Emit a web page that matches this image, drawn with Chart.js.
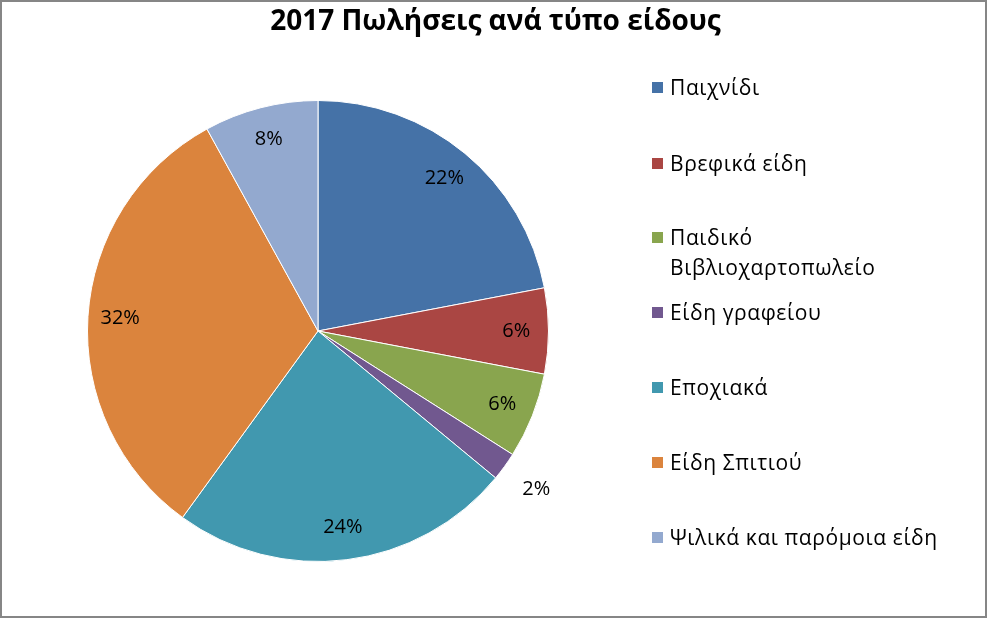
<!DOCTYPE html>
<html><head><meta charset="utf-8">
<script src="https://cdn.jsdelivr.net/npm/chart.js@4"></script>
<style>
body{margin:0;background:#fff;font-family:"Open Sans",sans-serif}
#wrap{position:relative;width:983px;height:614px;border:2px solid #868686;}
#title{position:absolute;top:-2px;left:0;width:987px;text-align:center;font:bold 28px "Open Sans",sans-serif;color:#000}
#legend{position:absolute;left:650px;top:0;font:21px "Open Sans",sans-serif;color:#000;letter-spacing:0.6px}
.item{position:absolute;left:0;white-space:nowrap;line-height:30px}
.sw{position:absolute;left:0;top:10px;width:11px;height:11px}
.tx{position:absolute;left:18px}
canvas{position:absolute;left:-2px;top:-2px}
</style></head>
<body><div id="wrap">
<canvas id="c" width="987" height="618"></canvas>
<div id="title">2017 Πωλήσεις ανά τύπο είδους</div>
<div id="legend"></div>
</div>
<script>
const categories = ['Παιχνίδι','Βρεφικά είδη','Παιδικό Βιβλιοχαρτοπωλείο','Είδη γραφείου','Εποχιακά','Είδη Σπιτιού','Ψιλικά και παρόμοια είδη'];
const values = [22, 6, 6, 2, 24, 32, 8];
const colors = ['#4572A7','#AA4643','#89A54E','#71588F','#4198AF','#DB843D','#93A9CF'];

// HTML legend
const legendTops = [70, 146, 220, 295, 370, 445, 520];
const legend = document.getElementById('legend');
categories.forEach((c, i) => {
    const label = i === 2 ? 'Παιδικό<br>Βιβλιοχαρτοπωλείο' : c;
    legend.innerHTML += `<div class="item" style="top:${legendTops[i]}px"><div class="sw" style="background:${colors[i]}"></div><div class="tx">${label}</div></div>`;
});

const pctLabels = {
    id: 'pctLabels',
    afterDatasetsDraw(chart) {
        const ctx = chart.ctx;
        const total = values.reduce((a, b) => a + b, 0);
        ctx.save();
        ctx.font = '20px "Open Sans", sans-serif';
        ctx.fillStyle = '#000';
        ctx.textAlign = 'center';
        ctx.textBaseline = 'middle';
        chart.getDatasetMeta(0).data.forEach((arc, i) => {
            const p = arc.getProps(['x','y','startAngle','endAngle','outerRadius'], true);
            const a = (p.startAngle + p.endAngle) / 2;
            const k = values[i] < 4 ? 1.17 : 0.86;
            const x = p.x + Math.cos(a) * p.outerRadius * k;
            const y = p.y + Math.sin(a) * p.outerRadius * k;
            ctx.fillText(Math.round(values[i] / total * 100) + '%', x, y);
        });
        ctx.restore();
    }
};

new Chart(document.getElementById('c'), {
    type: 'pie',
    data: { labels: categories, datasets: [{ data: values, backgroundColor: colors, borderColor: '#fff', borderWidth: 1 }] },
    options: {
        responsive: false,
        animation: false,
        layout: { padding: { left: 85, right: 436, top: 100, bottom: 56 } },
        plugins: { legend: { display: false }, tooltip: { enabled: false } }
    },
    plugins: [pctLabels]
});
</script>
</body></html>
